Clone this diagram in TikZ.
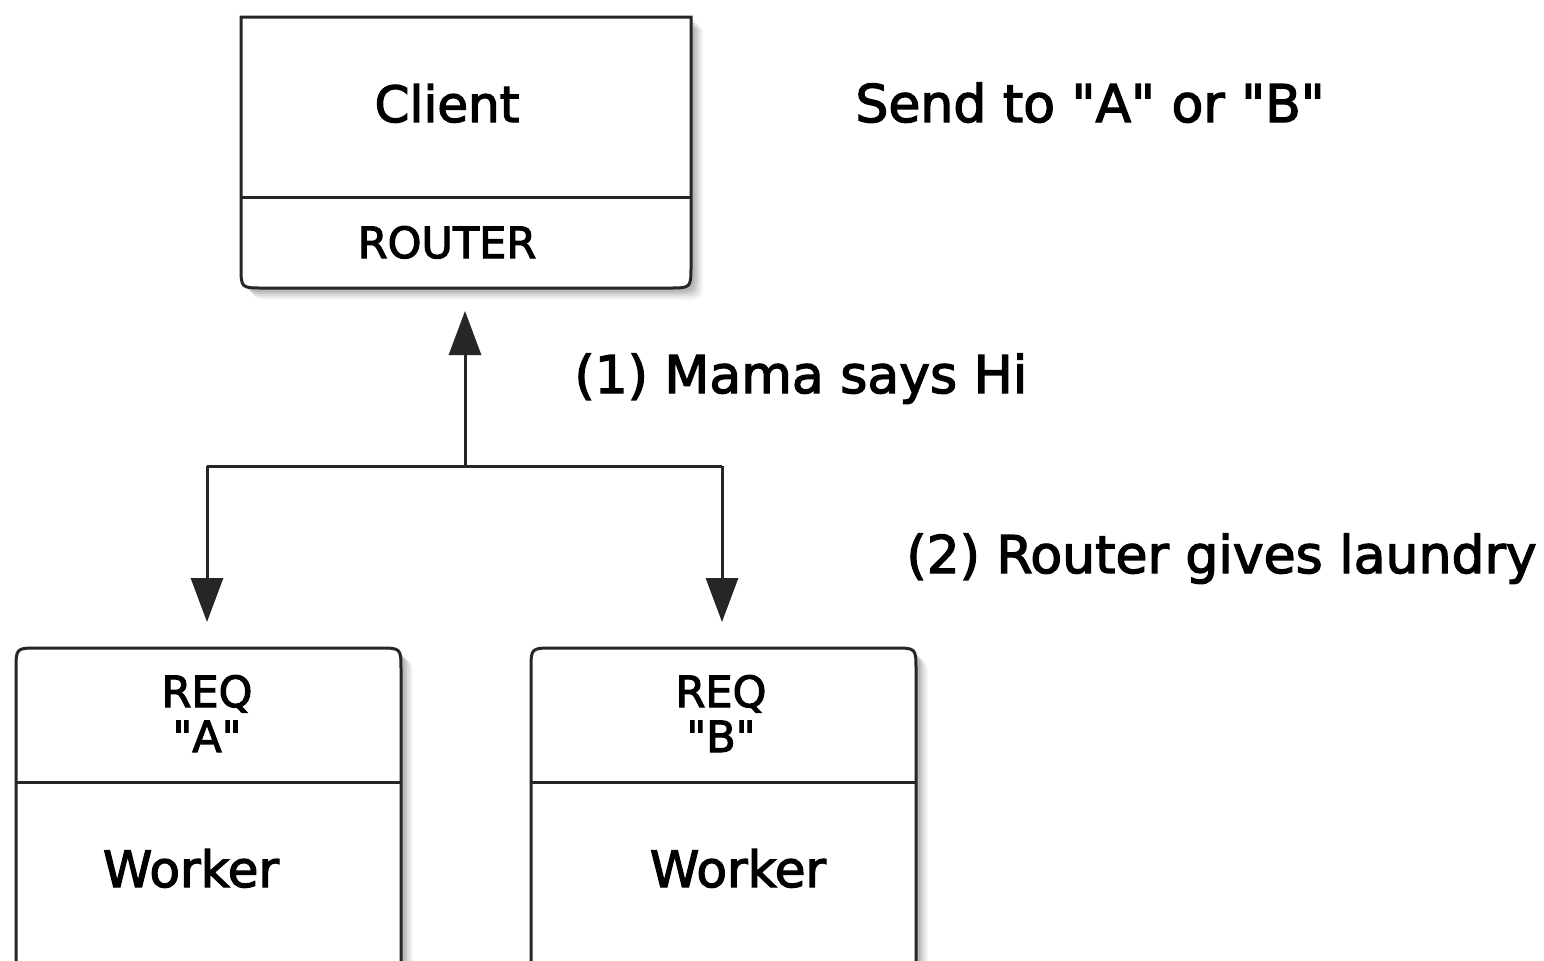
\documentclass[tikz,border=0pt]{standalone}
\usepackage{fontspec}
\setmainfont{DejaVu Sans}[Ligatures=TeXOff]
\newfontfamily\lblfont{DejaVu Sans}[Ligatures=TeXOff, RawFeature={embolden=2.5}]
\usetikzlibrary{arrows.meta,calc}
\tikzset{
  lbl/.style={font=\lblfont\fontsize{26}{30}\selectfont, inner sep=0pt, text=black},
  boxlbl/.style={font=\lblfont\fontsize{25}{29}\selectfont, inner sep=0pt, text=black},
  smalllbl/.style={font=\lblfont\fontsize{21.5}{24}\selectfont, inner sep=0pt, text=black},
  outline/.style={draw=black!85, line width=1.5pt, fill=white},
  conn/.style={draw=black!85, line width=1.5pt, -{Triangle[length=22pt,width=16pt]}},
  plainconn/.style={draw=black!85, line width=1.5pt}
}
\begin{document}
\begin{tikzpicture}[x=0.5pt,y=-0.5pt]
\useasboundingbox (0,0) rectangle (1544,960);
\fill[white] (0,0) rectangle (1544,960);

% shadows
\foreach \s/\o in {12/0.04,10/0.05,8/0.06,6/0.08,4/0.08}{
  \begin{scope}[shift={(\s,\s)}]
    \fill[black,opacity=\o] (241,17) -- (691,17) -- (691,266) .. controls (691,288) .. (669,288) -- (263,288) .. controls (241,288) .. (241,266) -- cycle;
    \fill[black,opacity=\o] (16,1000) -- (16,670) .. controls (16,648) .. (38,648) -- (379,648) .. controls (401,648) .. (401,670) -- (401,1000) -- cycle;
    \fill[black,opacity=\o] (531,1000) -- (531,670) .. controls (531,648) .. (553,648) -- (894,648) .. controls (916,648) .. (916,670) -- (916,1000) -- cycle;
  \end{scope}
}

% top box
\draw[outline] (241,17) -- (691,17) -- (691,266) .. controls (691,288) .. (669,288) -- (263,288) .. controls (241,288) .. (241,266) -- cycle;
\draw[plainconn] (241,197) -- (691,197);

% bottom boxes
\draw[outline] (16,1000) -- (16,670) .. controls (16,648) .. (38,648) -- (379,648) .. controls (401,648) .. (401,670) -- (401,1000);
\draw[plainconn] (16,782) -- (401,782);
\draw[outline] (531,1000) -- (531,670) .. controls (531,648) .. (553,648) -- (894,648) .. controls (916,648) .. (916,670) -- (916,1000);
\draw[plainconn] (531,782) -- (916,782);

% texts
\node[boxlbl, anchor=base] (client) at (447,122) {Client};
\node[smalllbl, anchor=base] (router) at (447,258) {ROUTER};
\node[lbl, anchor=base west] (send) at (855,122) {Send to "A" or "B"};
\node[lbl, anchor=base west] (mama) at (574,393) {(1) Mama says Hi};
\node[lbl, anchor=base west] (laundry) at (906,573) {(2) Router gives laundry};

\node[smalllbl, anchor=base] (reqa) at (207,707) {REQ};
\node[smalllbl, anchor=base] (qa) at (207,752) {"A"};
\node[boxlbl, anchor=base] (workera) at (191,887) {Worker};
\node[smalllbl, anchor=base] (reqb) at (721,707) {REQ};
\node[smalllbl, anchor=base] (qb) at (721,752) {"B"};
\node[boxlbl, anchor=base] (workerb) at (738,887) {Worker};

% connectors
\coordinate (clientbot) at (465,288);
\coordinate (junction) at (465,466);
\coordinate (jl) at (207,466);
\coordinate (jr) at (722,466);
\coordinate (wa) at (207,648);
\coordinate (wb) at (722,648);
\draw[conn] (junction) -- ($(clientbot)+(0,23)$);
\draw[plainconn] (jl) -- (jr);
\draw[conn] (jl) -- ($(wa)+(0,-26)$);
\draw[conn] (jr) -- ($(wb)+(0,-26)$);
\end{tikzpicture}
\end{document}
